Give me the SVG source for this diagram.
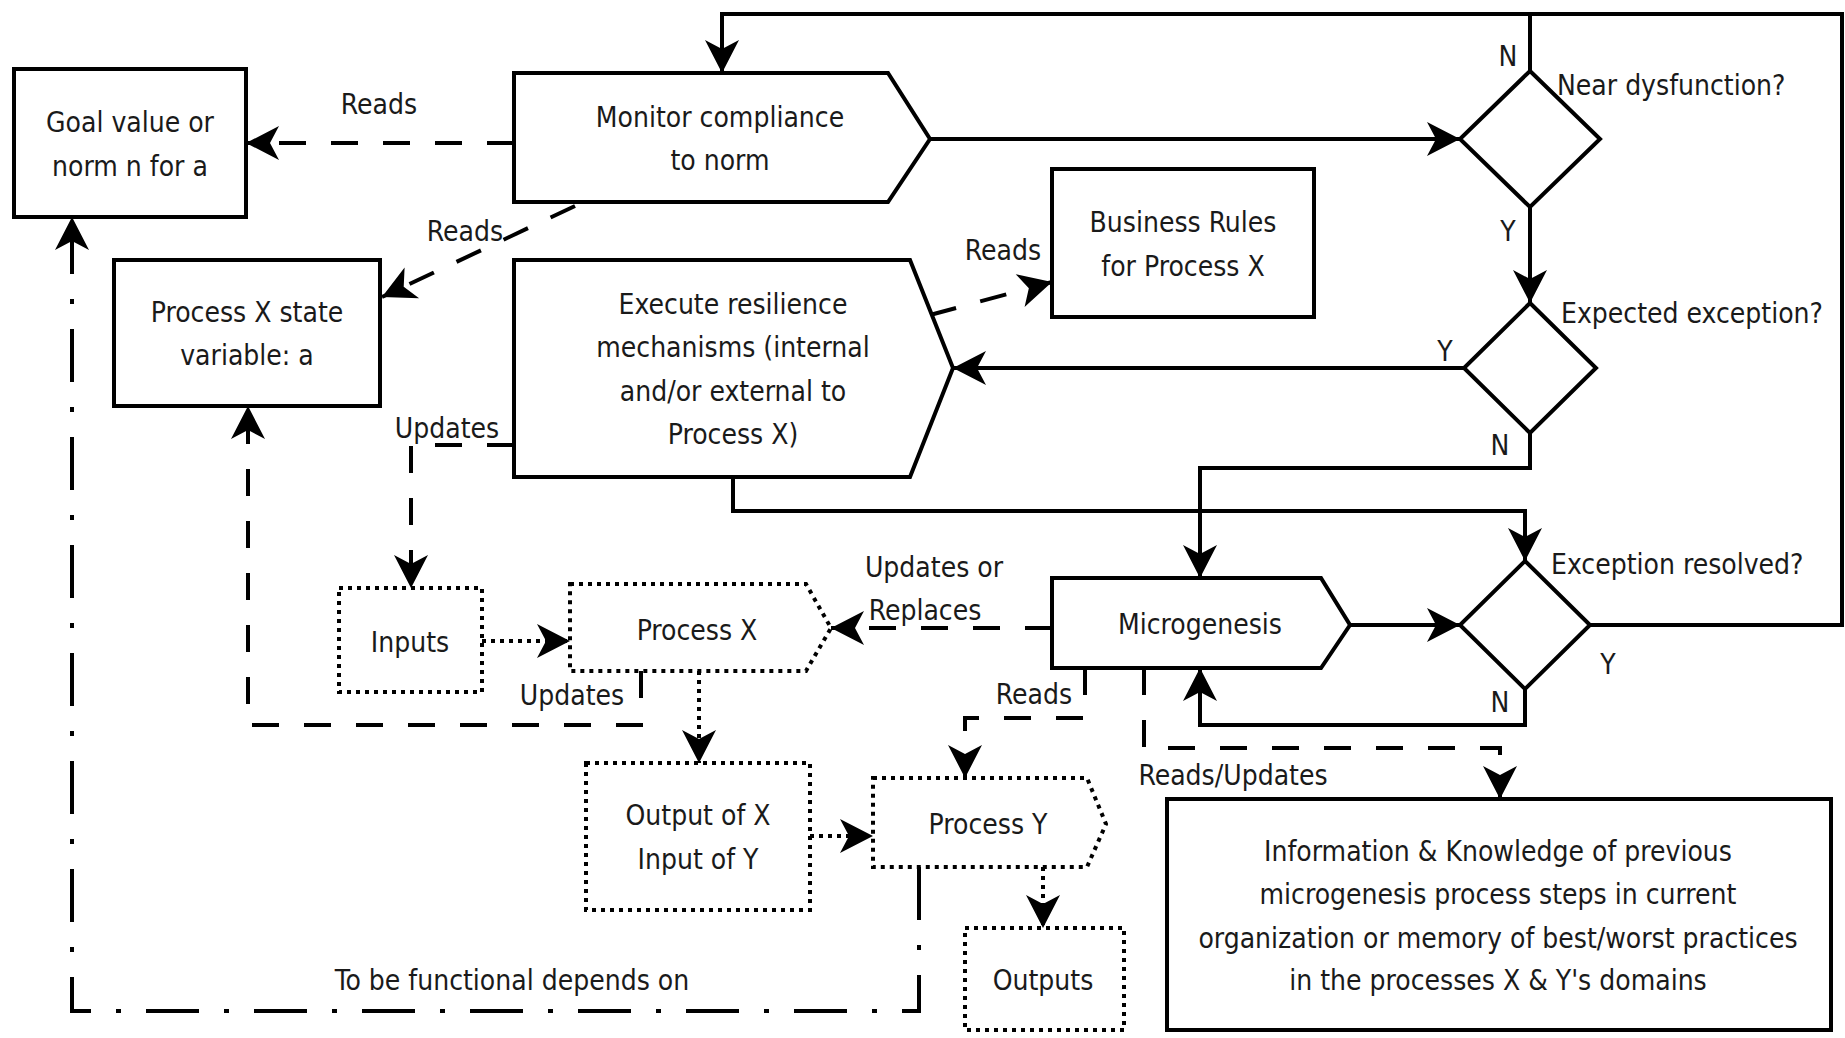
<svg xmlns="http://www.w3.org/2000/svg" width="1845" height="1038" viewBox="0 0 1845 1038">
<defs>
<marker id="ah" markerUnits="userSpaceOnUse" markerWidth="40" markerHeight="40" viewBox="-36 -20 40 40" refX="0" refY="0" orient="auto">
<path d="M0,0 L-33,-17 L-24,0 L-33,17 Z" fill="#000"/>
</marker>
</defs>
<style>
.box{fill:#fff;stroke:#000;stroke-width:4}
.dot{fill:#fff;stroke:#000;stroke-width:4;stroke-dasharray:4 5}
.t,.ts{font-family:"DejaVu Sans Condensed","DejaVu Sans",sans-serif;font-stretch:condensed;font-size:28px;fill:#1a1a1a}
.t{text-anchor:middle}
.ts{text-anchor:start}
.c{fill:none;stroke:#000;stroke-width:4}
.cd{fill:none;stroke:#000;stroke-width:4;stroke-dasharray:27 25}
.co{fill:none;stroke:#000;stroke-width:4;stroke-dasharray:4 5}
.cdd{fill:none;stroke:#000;stroke-width:4;stroke-dasharray:53 25 5 25}
.a{marker-end:url(#ah)}
</style>
<rect width="1845" height="1038" fill="#fff"/>
<g id="connectors">
<polyline class="cd a" points="514,143 246,143"/>
<polyline class="cd a" points="575,206 382,297"/>
<polyline class="cd a" points="930,315 1052,282"/>
<polyline class="c a" points="1590,625 1842,625 1842,14 722,14 722,73"/>
<polyline class="c" points="1530,71 1530,14"/>
<polyline class="c a" points="930,139 1460,139"/>
<polyline class="c a" points="1530,207 1530,303"/>
<polyline class="c a" points="1464,368 953,368"/>
<polyline class="c a" points="1530,433 1530,468 1200,468 1200,578"/>
<polyline class="c a" points="733,477 733,511 1525,511 1525,561"/>
<polyline class="c a" points="1350,625 1460,625"/>
<polyline class="c a" points="1525,689 1525,725 1200,725 1200,668"/>
<polyline class="cd a" points="514,445 411,445 411,588"/>
<polyline class="co a" points="482,641 570,641"/>
<polyline class="cd a" points="1052,628 831,628"/>
<polyline class="cd a" points="641,671 641,725 248,725 248,406"/>
<polyline class="co a" points="699,671 699,763"/>
<polyline class="co a" points="810,836 873,836"/>
<polyline class="co a" points="1043,867 1043,928"/>
<polyline class="cd a" points="1085,668 1085,718 965,718 965,778"/>
<polyline class="cd a" points="1144,668 1144,748 1500,748 1500,799"/>
<polyline class="cdd a" points="919,867 919,1011 72,1011 72,217"/>
<text class="t" x="379" y="114">Reads</text>
<text class="t" x="465" y="241">Reads</text>
<text class="t" x="1003" y="260">Reads</text>
<text class="t" x="447" y="438">Updates</text>
<text class="t" x="934" y="577">Updates or</text>
<text class="t" x="925" y="620">Replaces</text>
<text class="t" x="572" y="705">Updates</text>
<text class="t" x="1034" y="704">Reads</text>
<text class="t" x="1233" y="785">Reads/Updates</text>
<text class="t" x="512" y="990">To be functional depends on</text>
<text class="t" x="1508" y="66">N</text>
<text class="t" x="1508" y="241">Y</text>
<text class="t" x="1445" y="361">Y</text>
<text class="t" x="1500" y="455">N</text>
<text class="t" x="1608" y="674">Y</text>
<text class="t" x="1500" y="712">N</text>
</g>
<g id="goal">
<rect class="box" x="14" y="69" width="232" height="148"/>
<text class="t" x="130" y="132">Goal value or</text>
<text class="t" x="130" y="176">norm n for a</text>
</g>
<g id="monitor">
<path class="box" d="M514,73 L888,73 L930,139 L888,202 L514,202 Z"/>
<text class="t" x="720" y="127">Monitor compliance</text>
<text class="t" x="720" y="170">to norm</text>
</g>
<g id="near-dysfunction">
<polygon class="box" points="1530,71 1600,139 1530,207 1460,139"/>
<text class="ts" x="1557" y="95">Near dysfunction?</text>
</g>
<g id="expected-exception">
<polygon class="box" points="1530,303 1596,368 1530,433 1464,368"/>
<text class="ts" x="1561" y="323">Expected exception?</text>
</g>
<g id="exception-resolved">
<polygon class="box" points="1525,561 1590,625 1525,689 1460,625"/>
<text class="ts" x="1551" y="574">Exception resolved?</text>
</g>
<g id="business-rules">
<rect class="box" x="1052" y="169" width="262" height="148"/>
<text class="t" x="1183" y="232">Business Rules</text>
<text class="t" x="1183" y="276">for Process X</text>
</g>
<g id="execute">
<path class="box" d="M514,260 L910,260 L953,368 L910,477 L514,477 Z"/>
<text class="t" x="733" y="314">Execute resilience</text>
<text class="t" x="733" y="357">mechanisms (internal</text>
<text class="t" x="733" y="401">and/or external to</text>
<text class="t" x="733" y="444">Process X)</text>
</g>
<g id="microgenesis">
<path class="box" d="M1052,578 L1321,578 L1350,625 L1321,668 L1052,668 Z"/>
<text class="t" x="1200" y="634">Microgenesis</text>
</g>
<g id="state">
<rect class="box" x="114" y="260" width="266" height="146"/>
<text class="t" x="247" y="322">Process X state</text>
<text class="t" x="247" y="365">variable: a</text>
</g>
<g id="inputs">
<rect class="dot" x="339" y="588" width="143" height="104"/>
<text class="t" x="410" y="652">Inputs</text>
</g>
<g id="process-x">
<path class="dot" d="M570,584 L806,584 L831,628 L806,671 L570,671 Z"/>
<text class="t" x="697" y="640">Process X</text>
</g>
<g id="output-x">
<rect class="dot" x="586" y="763" width="224" height="147"/>
<text class="t" x="698" y="825">Output of X</text>
<text class="t" x="698" y="869">Input of Y</text>
</g>
<g id="process-y">
<path class="dot" d="M873,778 L1087,778 L1106,824 L1087,867 L873,867 Z"/>
<text class="t" x="988" y="834">Process Y</text>
</g>
<g id="outputs">
<rect class="dot" x="965" y="928" width="159" height="102"/>
<text class="t" x="1043" y="990">Outputs</text>
</g>
<g id="info">
<rect class="box" x="1167" y="799" width="664" height="231"/>
<text class="t" x="1498" y="861">Information &amp; Knowledge of previous</text>
<text class="t" x="1498" y="904">microgenesis process steps in current</text>
<text class="t" x="1498" y="948">organization or memory of best/worst practices</text>
<text class="t" x="1498" y="990">in the processes X &amp; Y's domains</text>
</g>
</svg>
